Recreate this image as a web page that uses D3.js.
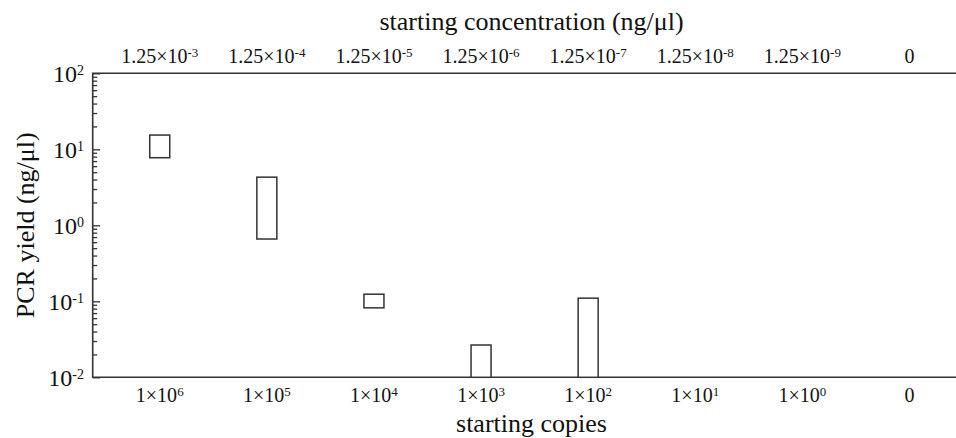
<!DOCTYPE html>
<html>
<head>
<meta charset="utf-8">
<script src="https://cdn.jsdelivr.net/npm/d3@7"></script>
<style>
    body { margin: 0; background: white; }
    text { font-family: "Liberation Serif", "Times New Roman", serif; fill: #111; }
</style>
</head>
<body>
<svg id="chart" width="956" height="438"></svg>
<script>
// data
const copiesExp = [6, 5, 4, 3, 2, 1, 0, null];          // bottom labels: 1×10^n, null = "0"
const concExp = [-3, -4, -5, -6, -7, -8, -9, null];     // top labels: 1.25×10^n, null = "0"
const yieldLow = [7.75, 0.66, 0.082, 0.01, 0.01, null, null, null];
const yieldHigh = [15.4, 4.3, 0.124, 0.0266, 0.11, null, null, null];
const yTicks = [0.01, 0.1, 1, 10, 100];

const largeur = 956,
    hauteur = 438;
const mLeft = 92.7, mTop = 73.3, mBottom = 377.3, mRight = 976.5;
const lineCol = "#333";
const titleX = 531.5;

const svgSpace = d3.select("#chart");

const idx = d3.range(copiesExp.length);

const x = d3.scalePoint()
    .domain(idx)
    .range([mLeft, mRight])
    .padding(0.626);

const y = d3.scaleLog()
    .domain([0.01, 100])
    .range([mBottom, mTop]);

// minor + major ticks on the left axis
let allTicks = [];
for (let e = -2; e < 2; e++) {
    for (let m = 1; m < 10; m++) allTicks.push(m * Math.pow(10, e));
}
allTicks.push(100);

const yAxis = svgSpace.append("g")
    .attr("transform", "translate(" + mLeft + ",0)")
    .call(d3.axisRight(y).tickValues(allTicks).tickFormat("").tickSizeOuter(0).tickSize(4.5));

yAxis.select(".domain").remove();
yAxis.selectAll(".tick line")
    .attr("stroke", lineCol)
    .attr("stroke-width", 1.3)
    .attr("x2", (d) => yTicks.includes(d) ? 7.5 : 4.5);

// frame: left, top, bottom (right side runs off the page)
svgSpace.append("path")
    .attr("d", "M" + largeur + "," + mTop + "H" + mLeft + "V" + mBottom + "H" + largeur)
    .attr("fill", "none")
    .attr("stroke", lineCol)
    .attr("stroke-width", 1.6);

// y tick labels 10^n
const yLab = svgSpace.append("g")
    .selectAll("text")
    .data(yTicks)
    .enter()
    .append("text")
    .attr("x", 84)
    .attr("y", (d) => y(d) + 9)
    .style("text-anchor", "end")
    .style("font-size", "24px");
yLab.append("tspan").text("10");
yLab.append("tspan")
    .attr("dy", -7)
    .style("font-size", "14px")
    .text((d) => Math.round(Math.log10(d)));

// bottom / top category labels
function catLabels(data, base, yPos, size, supSize, shift) {
    const t = svgSpace.append("g")
        .selectAll("text")
        .data(data)
        .enter()
        .append("text")
        .attr("x", (d, i) => x(i))
        .attr("y", yPos)
        .style("text-anchor", "middle")
        .style("font-size", size + "px");
    t.append("tspan").text((d) => d === null ? "0" : base);
    t.filter((d) => d !== null)
        .append("tspan")
        .attr("dy", -shift)
        .style("font-size", supSize + "px")
        .text((d) => d < 0 ? "-" + (-d) : d);
}
catLabels(copiesExp, "1×10", 402, 20, 13, 6);
catLabels(concExp, "1.25×10", 63.3, 20, 13, 6);

// boxes
svgSpace.append("g")
    .selectAll("rect")
    .data(idx.filter((i) => yieldLow[i] !== null))
    .enter()
    .append("rect")
    .attr("x", (i) => x(i) - 10)
    .attr("width", 20)
    .attr("y", (i) => y(yieldHigh[i]))
    .attr("height", (i) => y(yieldLow[i]) - y(yieldHigh[i]))
    .attr("fill", "white")
    .attr("stroke", lineCol)
    .attr("stroke-width", 1.5);

// axis titles
svgSpace.append("text")
    .attr("x", titleX)
    .attr("y", 432)
    .style("text-anchor", "middle")
    .style("font-size", "26px")
    .text("starting copies");

svgSpace.append("text")
    .attr("x", titleX)
    .attr("y", 30)
    .style("text-anchor", "middle")
    .style("font-size", "26px")
    .text("starting concentration (ng/μl)");

svgSpace.append("text")
    .attr("transform", "translate(34," + (mTop + mBottom) / 2 + ") rotate(-90)")
    .style("text-anchor", "middle")
    .style("font-size", "26px")
    .text("PCR yield (ng/μl)");
</script>
</body>
</html>
